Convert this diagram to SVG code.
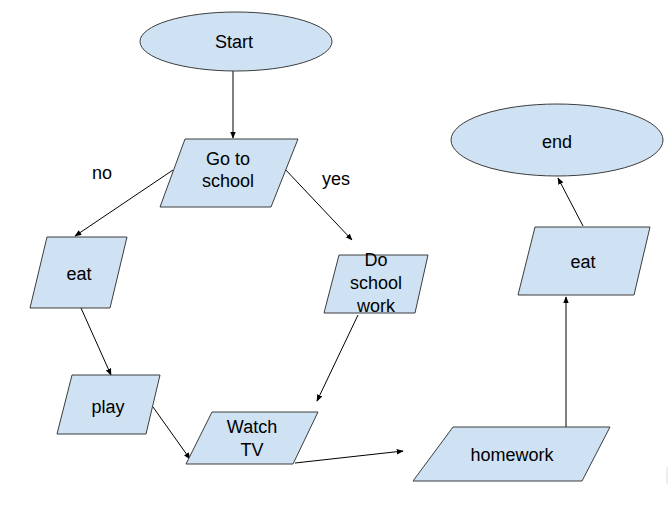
<svg xmlns="http://www.w3.org/2000/svg" width="669" height="510" viewBox="0 0 669 510">
<style>
.s{fill:#cfe2f3;stroke:#3c3c3c;stroke-width:1}
.t{font-family:"Liberation Sans",Arial,sans-serif;font-size:18px;fill:#000;text-anchor:middle}
.c{stroke:#000;stroke-width:1;fill:none;marker-end:url(#a)}
</style>
<defs>
<marker id="a" viewBox="0 0 10 10" refX="9" refY="5" markerWidth="7" markerHeight="7" markerUnits="userSpaceOnUse" orient="auto">
<path d="M0,1 L10,5 L0,9 z" fill="#000"/>
</marker>
</defs>
<rect width="669" height="510" fill="#fff"/>
<rect x="666" y="467" width="2" height="17" fill="#eeeeee"/>
<g id="connectors">
<line class="c" x1="233" y1="71" x2="233" y2="138"/>
<line class="c" x1="173" y1="170" x2="75" y2="236"/>
<line class="c" x1="283" y1="167" x2="352" y2="240"/>
<line class="c" x1="81" y1="308" x2="111" y2="375"/>
<line class="c" x1="358" y1="315" x2="317" y2="401"/>
<line class="c" x1="153" y1="407" x2="190" y2="459"/>
<line class="c" x1="295" y1="463" x2="403" y2="451"/>
<line class="c" x1="566" y1="427" x2="566" y2="297"/>
<line class="c" x1="583" y1="226" x2="558" y2="178"/>
</g>
<g id="start">
<ellipse class="s" cx="236" cy="41.5" rx="96" ry="29.5"/>
<text class="t" x="234" y="48">Start</text>
</g>
<g id="goto">
<polygon class="s" points="185,139 298,139 271,207 160,207"/>
<text class="t" x="228" y="165">Go to</text>
<text class="t" x="228" y="187">school</text>
</g>
<g id="eat1">
<polygon class="s" points="47,237 127,237 110,308 30,308"/>
<text class="t" x="79" y="280">eat</text>
</g>
<g id="doschool">
<polygon class="s" points="339,255 428,255 415,313 324,313"/>
<text class="t" x="376" y="266">Do</text>
<text class="t" x="376" y="289">school</text>
<text class="t" x="376" y="312">work</text>
</g>
<g id="play">
<polygon class="s" points="72,375 160,375 146,434 57,434"/>
<text class="t" x="108" y="413">play</text>
</g>
<g id="watchtv">
<polygon class="s" points="212,412 318,412 293,464 186,464"/>
<text class="t" x="252" y="433">Watch</text>
<text class="t" x="252" y="456">TV</text>
</g>
<g id="homework">
<polygon class="s" points="453,427 610,427 582,481 413,481"/>
<text class="t" x="512" y="461">homework</text>
</g>
<g id="eat2">
<polygon class="s" points="535,227 650,227 634,295 518,295"/>
<text class="t" x="583" y="268">eat</text>
</g>
<g id="end">
<ellipse class="s" cx="557" cy="140" rx="106" ry="36"/>
<text class="t" x="557" y="148">end</text>
</g>
<g id="labels">
<text class="t" x="102" y="179">no</text>
<text class="t" x="336" y="185">yes</text>
</g>
</svg>
